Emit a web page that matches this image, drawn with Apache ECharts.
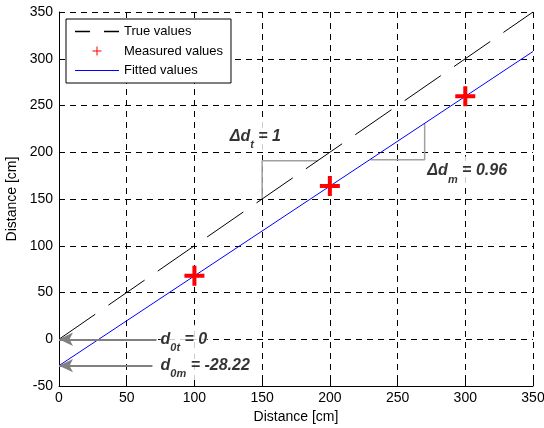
<!DOCTYPE html>
<html>
<head>
<meta charset="utf-8">
<script src="https://cdn.jsdelivr.net/npm/echarts@6/dist/echarts.min.js"></script>
<style>
  html, body { margin: 0; padding: 0; background: #fff; }
  #main { width: 544px; height: 428px; }
</style>
</head>
<body>
<div id="main"></div>
<script>
// data
var measuredX = [100, 200, 300];
var measuredY = [68, 164, 260];
var trueX = [0, 350];
var trueY = [0, 350];
var fittedX = [0, 350];
var fittedY = [-28.22, 307.78];
// slope brackets
var bracketTX = [150, 150, 191];
var bracketTY = [150, 191, 191];
var bracketMX = [230, 270, 270];
var bracketMY = [192, 192, 231];
// intercept arrows: [from x, y]
var arrowFromX = [72, 69];
var arrowY = [0, -28.22];
// annotation anchors
var noteX = [126, 272, 75, 75];
var noteY = [217, 180, 0, -28];
var noteText = [
  '{b|Δd}{s|t}{b| = 1}',
  '{b|Δd}{s|m}{b| = 0.96}',
  '{b|d}{s|0t}{b| = 0}',
  '{b|d}{s|0m}{b| = -28.22}'
];

function pairs(xs, ys) {
  var out = [];
  for (var i = 0; i < xs.length; i++) out.push([xs[i], ys[i]]);
  return out;
}

var font = 'Liberation Sans, Arial, Helvetica, sans-serif';
var chart = echarts.init(document.getElementById('main'));

var plusThick = 'path://M8,0H12V8H20V12H12V20H8V12H0V8H8Z';
// small plus inside a 14x14 box (corner dots keep the box size)
var plusThin = 'path://M0,0H0.01V0.01H0ZM14,14H13.99V13.99H14ZM6.5,2.5H7.5V6.5H11.5V7.5H7.5V11.5H6.5V7.5H2.5V6.5H6.5Z';
var dashIcon = 'path://M0,0H14V1.2H0ZM27,0H41V1.2H27Z';
var solidIcon = 'path://M0,0H44V1.2H0Z';

var arrowData = [];
for (var i = 0; i < arrowY.length; i++) {
  arrowData.push([{ coord: [arrowFromX[i], arrowY[i]] }, { coord: [0, arrowY[i]] }]);
}

var option = {
  animation: false,
  backgroundColor: '#fff',
  textStyle: { fontFamily: font },
  grid: { left: 59, right: 11, top: 12, bottom: 42, outerBoundsMode: 'none', containLabel: false },
  legend: {
    orient: 'vertical',
    left: 66,
    top: 19,
    align: 'left',
    padding: [6, 8, 6, 9],
    itemWidth: 44,
    itemHeight: 14,
    itemGap: 6,
    backgroundColor: '#fff',
    borderColor: '#000',
    borderWidth: 1,
    borderRadius: 0,
    textStyle: { fontSize: 13, color: '#000', fontFamily: font },
    data: [
      { name: 'True values', icon: dashIcon, itemStyle: { color: '#000' } },
      { name: 'Measured values', icon: plusThin, itemStyle: { color: '#ff0000' } },
      { name: 'Fitted values', icon: solidIcon, itemStyle: { color: '#0000ff' } }
    ]
  },
  xAxis: {
    type: 'value',
    min: 0, max: 350, interval: 50,
    name: 'Distance [cm]',
    nameLocation: 'middle',
    nameGap: 23,
    nameTextStyle: { fontSize: 14, color: '#000', fontFamily: font },
    axisLine: { onZero: false, lineStyle: { color: '#000', width: 1 } },
    axisTick: { inside: true, length: 5, lineStyle: { color: '#000' } },
    axisLabel: { fontSize: 14, color: '#000', margin: 5, fontFamily: font },
    splitLine: { show: true, lineStyle: { color: '#000', type: [6, 5], width: 1 } }
  },
  yAxis: {
    type: 'value',
    min: -50, max: 350, interval: 50,
    name: 'Distance [cm]',
    nameLocation: 'middle',
    nameGap: 37,
    nameTextStyle: { fontSize: 14, color: '#000', fontFamily: font },
    axisLine: { onZero: false, lineStyle: { color: '#000', width: 1 } },
    axisTick: { inside: true, length: 5, lineStyle: { color: '#000' } },
    axisLabel: { fontSize: 14, color: '#000', margin: 6, fontFamily: font },
    splitLine: { show: true, lineStyle: { color: '#000', type: [6, 5], width: 1 } }
  },
  series: [
    {
      name: 'True values',
      type: 'line',
      data: pairs(trueX, trueY),
      symbol: 'none',
      lineStyle: { color: '#000', width: 1, type: [44, 16] },
      z: 3
    },
    {
      name: 'Fitted values',
      type: 'line',
      data: pairs(fittedX, fittedY),
      symbol: 'none',
      lineStyle: { color: '#0000ff', width: 1 },
      z: 4
    },
    {
      name: 'bracketT',
      type: 'line',
      data: pairs(bracketTX, bracketTY),
      symbol: 'none',
      lineStyle: { color: '#a0a0a0', width: 1.5 },
      z: 2
    },
    {
      name: 'bracketM',
      type: 'line',
      data: pairs(bracketMX, bracketMY),
      symbol: 'none',
      lineStyle: { color: '#a0a0a0', width: 1.5 },
      z: 2,
      markLine: {
        silent: true,
        symbol: ['none', 'arrow'],
        symbolSize: [10, 14],
        label: { show: false },
        lineStyle: { color: '#808080', width: 2, type: 'solid' },
        data: arrowData
      }
    },
    {
      name: 'Measured values',
      type: 'scatter',
      data: pairs(measuredX, measuredY),
      symbol: plusThick,
      symbolSize: 20,
      itemStyle: { color: '#ff0000', opacity: 1 },
      z: 6
    },
    {
      name: 'notes',
      type: 'scatter',
      data: pairs(noteX, noteY),
      symbolSize: 0,
      silent: true,
      z: 7,
      label: {
        show: true,
        position: 'right',
        distance: 0,
        backgroundColor: '#fff',
        formatter: function (p) { return noteText[p.dataIndex]; },
        rich: {
          b: { fontSize: 16, fontWeight: 'bold', fontStyle: 'italic', color: '#000', fontFamily: font },
          s: { fontSize: 11, fontWeight: 'bold', fontStyle: 'italic', color: '#000', fontFamily: font, padding: [18, 0, 0, 0] }
        }
      }
    }
  ]
};

chart.setOption(option);
</script>
</body>
</html>
